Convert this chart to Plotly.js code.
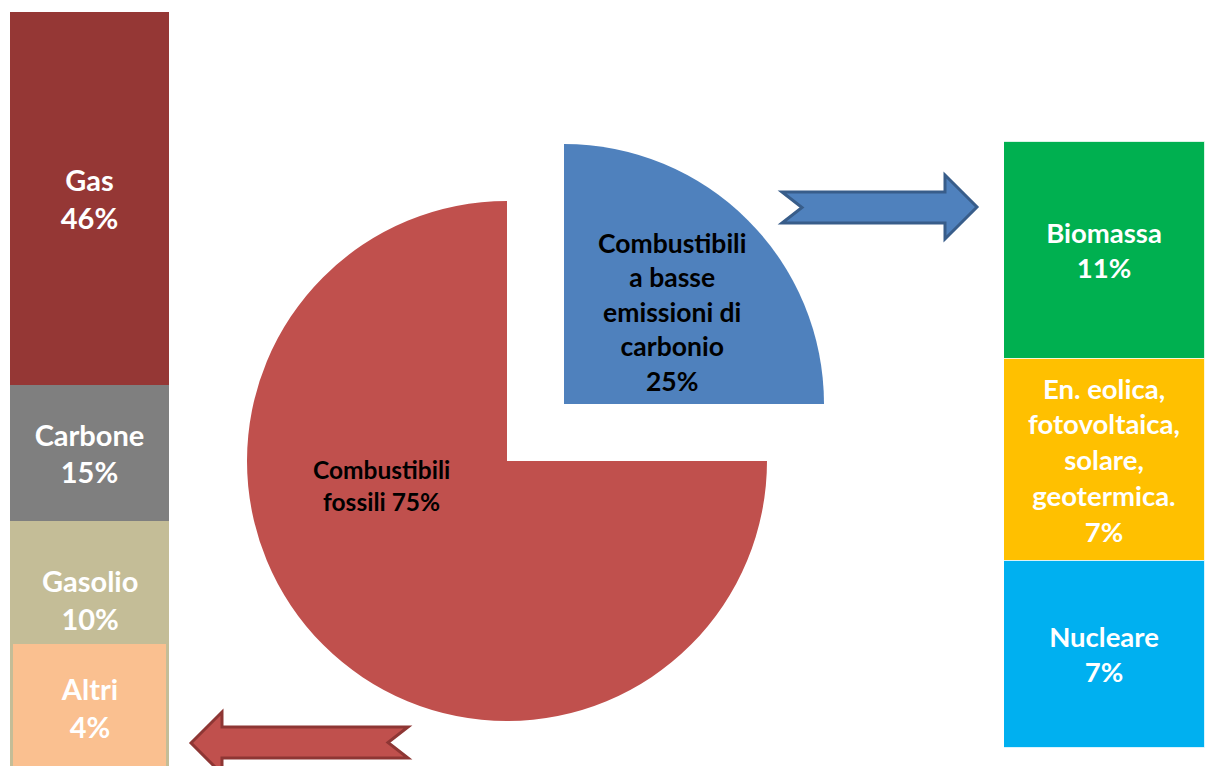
<!DOCTYPE html>
<html><head><meta charset="utf-8">
<script src="https://cdn.plot.ly/plotly-3.0.1.min.js"></script>
<style>html,body{margin:0;padding:0;background:#fff;overflow:hidden}#chart{width:1205px;height:766px;}</style>
</head><body><div id="chart"></div>
<script>
// ---- data ----
const pieLabels = ['Combustibili a basse emissioni di carbonio', 'Combustibili fossili'];
const pieValues = [25, 75];
const pieLines = ['Combustibili<br>a basse<br>emissioni di<br>carbonio', 'Combustibili<br>fossili'];

const fossilNames = ['Gas', 'Carbone', 'Gasolio', 'Altri'];
const fossilPct = [46, 15, 10, 4];
const fossilBlock = [46, 16.8, 34.4, 15.7];   // block lengths as drawn (diagram units)

const lowNames = ['Biomassa', 'En. eolica,<br>fotovoltaica,<br>solare,<br>geotermica.', 'Nucleare'];
const lowPct = [11, 7, 7];
const lowBlock = [11, 10.24, 9.48];          // block lengths as drawn (diagram units)

// ---- layout helpers ----
const W = 1205, H = 766;
const px = x => x / W, py = y => 1 - y / H;
const FONT = 'Lato, "Open Sans", sans-serif';
const pieR = 260;
function pieDomain(cx, cy) {
  return {x: [px(cx - pieR), px(cx + pieR)], y: [py(cy + pieR), py(cy - pieR)]};
}
const TR = 'rgba(0,0,0,0)';
const red = '#C0504D', blue = '#4F81BD';

const traces = [];
// pie: fossil slice
traces.push({type: 'pie', labels: pieLabels, values: pieValues, sort: false, direction: 'clockwise',
  rotation: 0, textinfo: 'none', hoverinfo: 'label+percent', showlegend: false,
  marker: {colors: [TR, red], line: {width: 0}}, domain: pieDomain(507, 461)});
// pie: exploded low-carbon slice
traces.push({type: 'pie', labels: pieLabels, values: pieValues, sort: false, direction: 'clockwise',
  rotation: 0, textinfo: 'none', hoverinfo: 'label+percent', showlegend: false,
  marker: {colors: [blue, TR], line: {width: 0}}, domain: pieDomain(564, 404)});

// left column (fossil breakdown)
const fossilColors = ['#953735', '#7F7F7F', '#C4BD97', '#FAC090'];
const altriInset = 15.14;
const fossilBase = [0, fossilBlock[0], fossilBlock[0] + fossilBlock[1], fossilBlock[0] + fossilBlock[1] + altriInset];
fossilNames.forEach((n, i) => {
  traces.push({type: 'bar', x: [0], y: [fossilBlock[i]], base: [fossilBase[i]], width: [i === 3 ? 0.962 : 1],
    xaxis: 'x', yaxis: 'y', name: n, showlegend: false,
    marker: {color: fossilColors[i], line: {width: 0}},
    text: [i === 2 ? '' : n + '<br>' + fossilPct[i] + '%'], textposition: i === 2 ? 'none' : 'inside',
    insidetextanchor: 'middle', constraintext: 'none',
    insidetextfont: {family: FONT, size: 29, color: '#FFFFFF', weight: 'bold'},
    hovertemplate: n + ': ' + fossilPct[i] + '%<extra></extra>'});
});

// right column (low-carbon breakdown)
const lowColors = ['#00B050', '#FFC000', '#00B0F0'];
let acc = 0;
lowNames.forEach((n, i) => {
  traces.push({type: 'bar', x: [0], y: [lowBlock[i]], base: [acc], width: [1],
    xaxis: 'x2', yaxis: 'y2', name: n, showlegend: false,
    marker: {color: lowColors[i], line: {width: 1, color: 'rgba(255,255,255,0.7)'}},
    text: [n + '<br>' + lowPct[i] + '%'], textposition: 'inside', insidetextanchor: 'middle',
    constraintext: 'none',
    insidetextfont: {family: FONT, size: 27.5, color: '#FFFFFF', weight: 'bold'},
    hovertemplate: n.replace(/<br>/g, ' ') + ': ' + lowPct[i] + '%<extra></extra>'});
  acc += lowBlock[i];
});

// ---- shapes: arrows ----
function path(pts) {
  return 'M ' + pts.map(p => px(p[0]).toFixed(5) + ',' + py(p[1]).toFixed(5)).join(' L ') + ' Z';
}
const blueArrow = [[782,192],[945,192],[945,175],[977,207],[945,239],[945,223],[782,223],[802,207.5]];
const redArrow = [[191,743],[222,712],[222,727],[408,727],[388,742.5],[408,758],[222,758],[222,774]];

const kL = 46 / 373, kR = 11 / 217;
const layout = {
  width: W, height: H, margin: {l: 0, r: 0, t: 0, b: 0, pad: 0},
  paper_bgcolor: '#FFFFFF', plot_bgcolor: 'rgba(0,0,0,0)',
  showlegend: false, barmode: 'overlay', bargap: 0,
  xaxis: {domain: [px(10), px(169)], range: [-0.5, 0.5], visible: false, fixedrange: true},
  yaxis: {domain: [0, 1], range: [(H - 12) * kL, -12 * kL], visible: false, fixedrange: true},
  xaxis2: {domain: [px(1004), 1], range: [-0.5, 0.5], visible: false, fixedrange: true, anchor: 'y2'},
  yaxis2: {domain: [0, 1], range: [(H - 142) * kR, -142 * kR], visible: false, fixedrange: true, anchor: 'x2'},
  shapes: [
    {type: 'path', xref: 'paper', yref: 'paper', path: path(blueArrow), fillcolor: blue,
     line: {color: '#385D8A', width: 3}},
    {type: 'path', xref: 'paper', yref: 'paper', path: path(redArrow), fillcolor: red,
     line: {color: '#8E3634', width: 3}}
  ],
  annotations: [
    {xref: 'paper', yref: 'paper', x: px(381.5), y: py(485), xanchor: 'center', yanchor: 'middle',
     text: pieLines[1] + ' ' + pieValues[1] + '%', showarrow: false,
     font: {family: FONT, size: 24.5, color: '#000000', weight: 'bold'}},
    {xref: 'paper', yref: 'paper', x: px(671.5), y: py(312), xanchor: 'center', yanchor: 'middle',
     text: pieLines[0] + '<br>' + pieValues[0] + '%', showarrow: false,
     font: {family: FONT, size: 26.5, color: '#000000', weight: 'bold'}},
    {xref: 'x', yref: 'y', x: 0, y: fossilBase[2] + 9.6, xanchor: 'center', yanchor: 'middle',
     text: fossilNames[2] + '<br>' + fossilPct[2] + '%', showarrow: false,
     font: {family: FONT, size: 29, color: '#FFFFFF', weight: 'bold'}}
  ]
};

Plotly.newPlot('chart', traces, layout, {displayModeBar: false, staticPlot: false});
</script>
</body></html>
